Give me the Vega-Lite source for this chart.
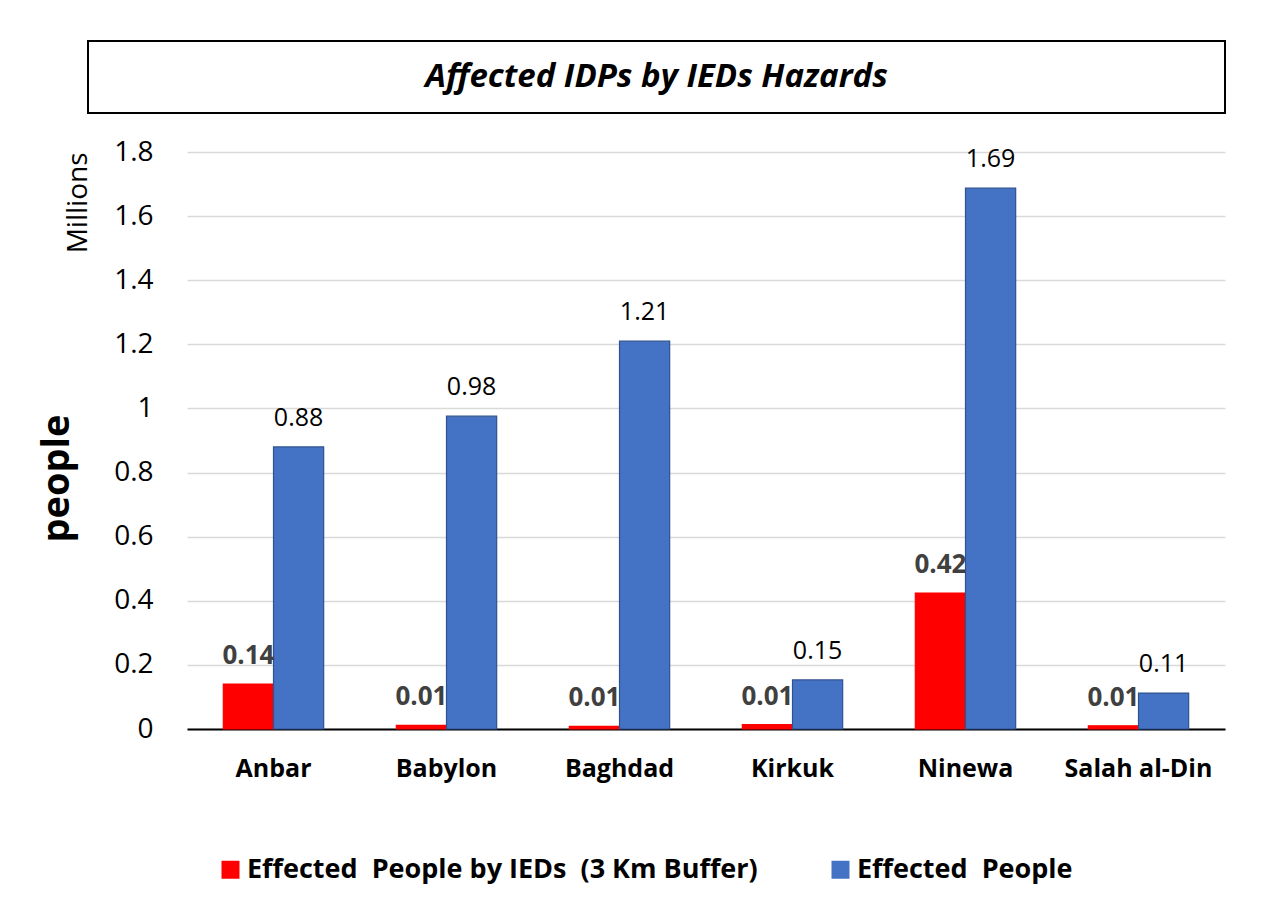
{
  "$schema": "https://vega.github.io/schema/vega-lite/v6.json",
  "padding": {"left": 38, "top": 40, "right": 5, "bottom": 5},
  "background": "#ffffff",
  "spacing": 24,
  "config": {"font": "Open Sans", "view": {"stroke": null}},
  "vconcat": [
    {
      "width": 1137,
      "height": 72,
      "view": {"stroke": "#000000", "strokeWidth": 2},
      "data": {"values": [{"t": "Affected IDPs by IEDs Hazards"}]},
      "mark": {"type": "text", "fontSize": 33, "fontStyle": "italic", "fontWeight": "bold", "color": "#000000"},
      "encoding": {
        "text": {"field": "t"}
      }
    },
    {
      "width": 1137,
      "height": 577,
      "data": {"values": [
        {"province": "Anbar", "kind": "ied", "series": "Effected\u00a0 People by IEDs\u00a0 (3 Km Buffer)", "value": 0.14},
        {"province": "Anbar", "kind": "all", "series": "Effected\u00a0 People", "value": 0.88},
        {"province": "Babylon", "kind": "ied", "series": "Effected\u00a0 People by IEDs\u00a0 (3 Km Buffer)", "value": 0.011},
        {"province": "Babylon", "kind": "all", "series": "Effected\u00a0 People", "value": 0.976},
        {"province": "Baghdad", "kind": "ied", "series": "Effected\u00a0 People by IEDs\u00a0 (3 Km Buffer)", "value": 0.008},
        {"province": "Baghdad", "kind": "all", "series": "Effected\u00a0 People", "value": 1.21},
        {"province": "Kirkuk", "kind": "ied", "series": "Effected\u00a0 People by IEDs\u00a0 (3 Km Buffer)", "value": 0.014},
        {"province": "Kirkuk", "kind": "all", "series": "Effected\u00a0 People", "value": 0.153},
        {"province": "Ninewa", "kind": "ied", "series": "Effected\u00a0 People by IEDs\u00a0 (3 Km Buffer)", "value": 0.424},
        {"province": "Ninewa", "kind": "all", "series": "Effected\u00a0 People", "value": 1.687},
        {"province": "Salah al-Din", "kind": "ied", "series": "Effected\u00a0 People by IEDs\u00a0 (3 Km Buffer)", "value": 0.010},
        {"province": "Salah al-Din", "kind": "all", "series": "Effected\u00a0 People", "value": 0.112}
      ]},
      "encoding": {
        "x": {
          "field": "province", "type": "nominal", "sort": null,
          "scale": {"range": [99, 1137], "paddingInner": 0.42, "paddingOuter": 0.21},
          "axis": {"title": null, "labelAngle": 0, "labelFontSize": 25, "labelFontWeight": "bold", "labelColor": "#000000", "labelPadding": 27, "ticks": false, "domainColor": "#000000", "domainWidth": 2, "grid": false}
        },
        "xOffset": {"field": "kind", "type": "nominal", "sort": ["ied", "all"]}
      },
      "layer": [
        {
          "mark": {"type": "bar", "strokeWidth": 1.2},
          "encoding": {
            "y": {
              "field": "value", "type": "quantitative",
              "scale": {"domain": [0, 1.8], "nice": false},
              "axis": {
                "values": [0, 0.2, 0.4, 0.6, 0.8, 1, 1.2, 1.4, 1.6, 1.8], "format": "~g", "offset": -99,
                "labelFontSize": 28, "labelColor": "#000000", "labelPadding": 34, "ticks": false, "domain": false,
                "grid": true, "gridColor": "#d9d9d9", "gridWidth": 1.5,
                "minExtent": 78, "maxExtent": 78,
                "title": "people", "titleFontSize": 38, "titleFontWeight": "bold", "titleColor": "#000000", "titlePadding": 33, "titleY": 326
              }
            },
            "color": {
              "field": "series", "type": "nominal",
              "scale": {"domain": ["Effected\u00a0 People by IEDs\u00a0 (3 Km Buffer)", "Effected\u00a0 People"], "range": ["#ff0000", "#4472c4"]},
              "legend": {"title": null, "orient": "none", "legendX": 129, "legendY": 815, "direction": "horizontal", "symbolType": "square", "symbolSize": 324, "symbolStrokeWidth": 0, "labelFontSize": 27, "labelFontWeight": "bold", "labelColor": "#000000", "labelLimit": 1000, "labelOffset": 3, "columnPadding": 69}
            },
            "stroke": {
              "field": "kind", "type": "nominal",
              "scale": {"domain": ["ied", "all"], "range": ["#ff0000", "#2f528f"]},
              "legend": null
            }
          }
        },
        {
          "transform": [{"filter": "datum.kind === 'ied'"}],
          "mark": {"type": "text", "fontSize": 26, "fontWeight": "bold", "color": "#404040", "baseline": "alphabetic", "dy": -20},
          "encoding": {
            "y": {"field": "value", "type": "quantitative", "axis": null},
            "text": {"field": "value", "type": "quantitative", "format": ".2f"}
          }
        },
        {
          "transform": [{"filter": "datum.kind === 'all'"}],
          "mark": {"type": "text", "fontSize": 25, "color": "#000000", "baseline": "alphabetic", "dy": -21},
          "encoding": {
            "y": {
              "field": "value", "type": "quantitative",
              "axis": {"orient": "left", "offset": -99, "labels": false, "ticks": false, "domain": false, "grid": false, "minExtent": 0, "maxExtent": 0, "title": "Millions", "titleFontSize": 28, "titleFontWeight": "normal", "titleColor": "#000000", "titleAnchor": "end", "titlePadding": 95}
            },
            "text": {"field": "value", "type": "quantitative", "format": ".2f"}
          }
        }
      ],
      "resolve": {"axis": {"y": "independent"}}
    }
  ]
}
